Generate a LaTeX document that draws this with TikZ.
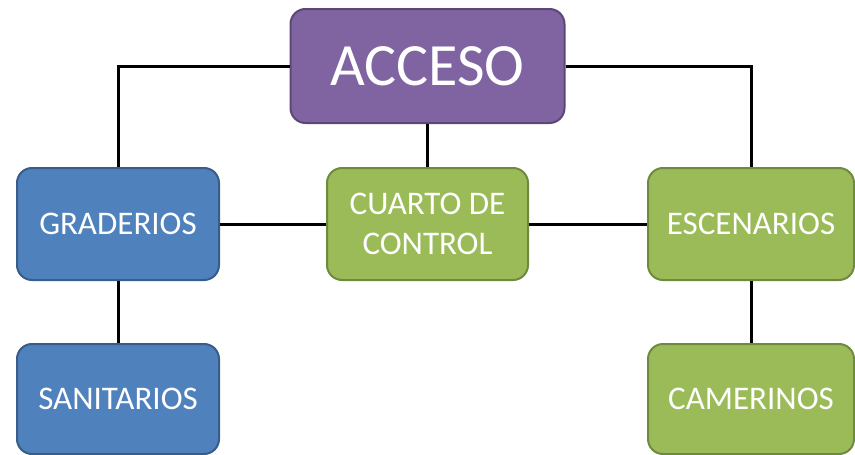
\documentclass[tikz,border=0pt]{standalone}
\usepackage{fontspec}
\setmainfont{Carlito}
\definecolor{pfill}{HTML}{8064A2}
\definecolor{pdraw}{HTML}{5C4776}
\definecolor{bfill}{HTML}{4F81BD}
\definecolor{bdraw}{HTML}{385D8A}
\definecolor{gfill}{HTML}{9BBB59}
\definecolor{gdraw}{HTML}{71893F}
\tikzset{
  box/.style={rounded corners=15pt, line width=2pt, text=white, align=center,
    inner sep=0pt, font=\fontsize{33}{40}\selectfont},
  purplebox/.style={box, fill=pfill, draw=pdraw},
  bluebox/.style={box, fill=bfill, draw=bdraw},
  greenbox/.style={box, fill=gfill, draw=gdraw},
  link/.style={line width=3pt, black},
}
\begin{document}
\begin{tikzpicture}[x=1pt,y=-1pt]
\useasboundingbox (0,0) rectangle (855,455);
\node[purplebox, minimum width=274pt, minimum height=114pt, font=\fontsize{60}{66}\selectfont] (acc) at (427.5,66) {ACCESO};
\node[bluebox, minimum width=202pt, minimum height=112pt] (gra) at (118,224) {GRADERIOS};
\node[greenbox, minimum width=201pt, minimum height=112pt] (cua) at (427.5,224) {CUARTO DE\\CONTROL};
\node[greenbox, minimum width=206pt, minimum height=112pt] (esc) at (751,224) {ESCENARIOS};
\node[bluebox, minimum width=202pt, minimum height=110pt] (san) at (118,399) {SANITARIOS};
\node[greenbox, minimum width=206pt, minimum height=110pt] (cam) at (751,399) {CAMERINOS};
\coordinate (cl) at (118,66);
\coordinate (cr) at (751,66);
\draw[link] (acc.west) -- (cl) -- (gra.north);
\draw[link] (acc.east) -- (cr) -- (esc.north);
\draw[link] (acc.south) -- (cua.north);
\draw[link] (gra.east) -- (cua.west);
\draw[link] (cua.east) -- (esc.west);
\draw[link] (gra.south) -- (san.north);
\draw[link] (esc.south) -- (cam.north);
\end{tikzpicture}
\end{document}
